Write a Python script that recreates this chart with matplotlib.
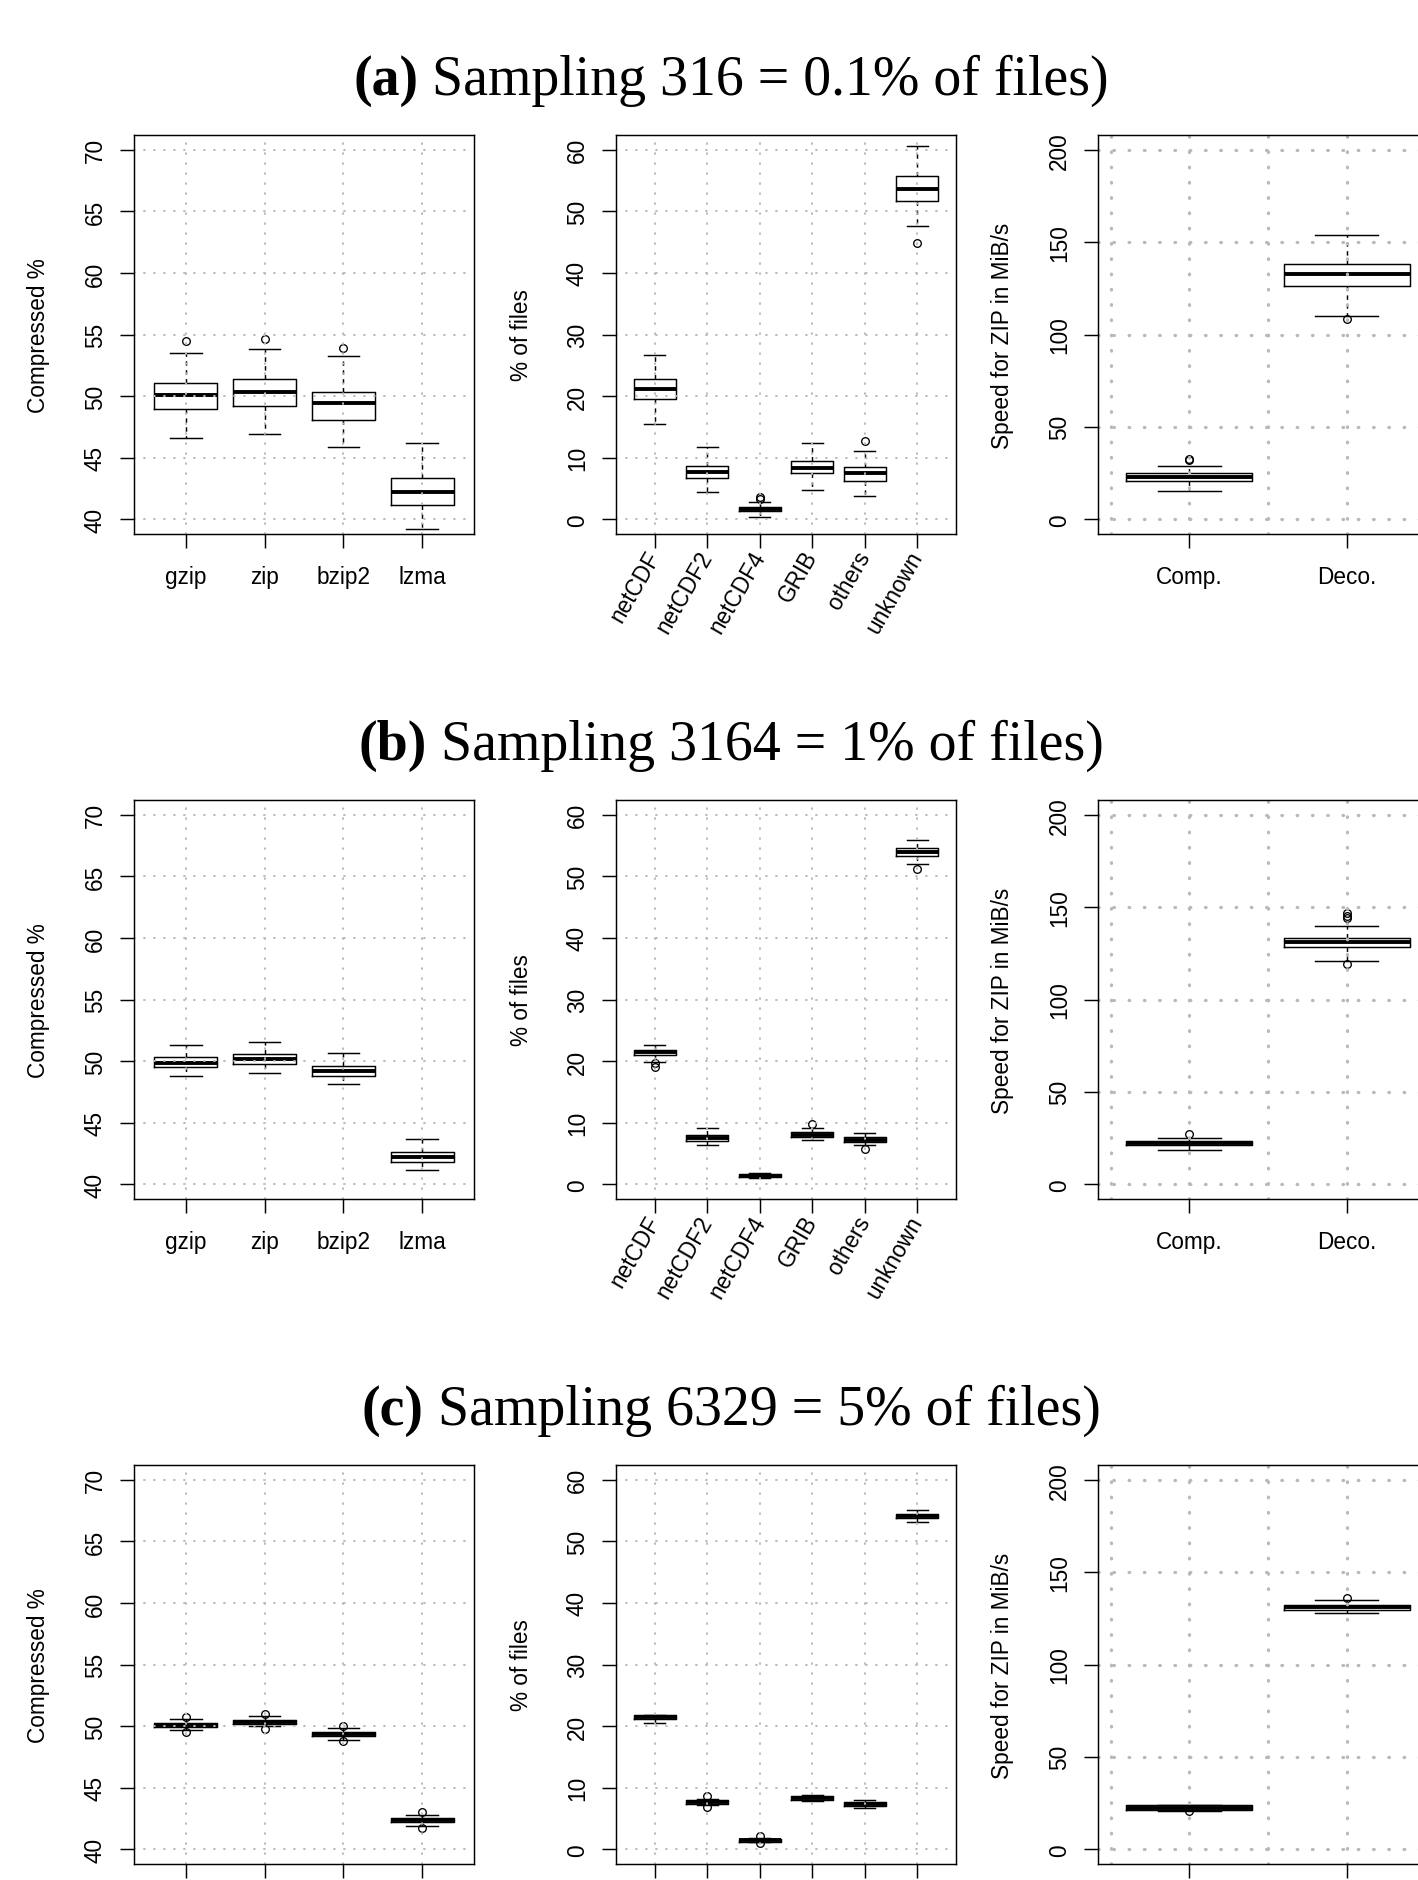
import matplotlib
matplotlib.use("Agg")
import matplotlib.pyplot as plt
import numpy as np

# ---------------- data ----------------
comp_cats = ["gzip", "zip", "bzip2", "lzma"]
fmt_cats = ["netCDF", "netCDF2", "netCDF4", "GRIB", "others", "unknown"]
speed_cats = ["Comp.", "Deco."]

panel_tags = ["(a)", "(b)", "(c)"]
panel_titles = [" Sampling 316 = 0.1% of files)",
                " Sampling 3164 = 1% of files)",
                " Sampling 6329 = 5% of files)"]

comp_yticks = [40, 45, 50, 55, 60, 65, 70]
fmt_yticks = [0, 10, 20, 30, 40, 50, 60]
speed_yticks = [0, 50, 100, 150, 200]

# box statistics: [whisker low, Q1, median, Q3, whisker high]
a_comp_stats = [[46.6, 48.93, 50.05, 51.05, 53.5],
                [46.92, 49.23, 50.34, 51.38, 53.8],
                [45.84, 48.09, 49.42, 50.34, 53.28],
                [39.19, 41.19, 42.17, 43.31, 46.22]]
a_comp_fliers = [[54.45], [54.66], [53.87], []]
a_fmt_stats = [[15.52, 19.48, 21.22, 22.79, 26.63],
               [4.42, 6.63, 7.67, 8.72, 11.74],
               [0.29, 1.28, 1.63, 1.98, 2.85],
               [4.71, 7.44, 8.31, 9.48, 12.33],
               [3.84, 6.28, 7.56, 8.55, 11.1],
               [47.56, 51.63, 53.6, 55.7, 60.58]]
a_fmt_fliers = [[], [], [3.6, 3.3], [], [12.67], [44.94]]
a_speed_stats = [[15.02, 20.63, 22.8, 24.98, 28.96],
                 [110.2, 126.5, 132.85, 137.9, 154.0]]
a_speed_fliers = [[31.86, 32.4], [108.6]]

b_comp_stats = [[48.79, 49.49, 49.87, 50.33, 51.28],
                [49.06, 49.79, 50.14, 50.58, 51.55],
                [48.14, 48.76, 49.17, 49.6, 50.66],
                [41.19, 41.82, 42.2, 42.6, 43.69]]
b_comp_fliers = [[], [], [], []]
b_fmt_stats = [[19.87, 20.98, 21.43, 21.82, 22.66],
               [6.44, 7.1, 7.55, 8.0, 9.07],
               [0.95, 1.12, 1.4, 1.68, 1.85],
               [7.16, 7.67, 8.06, 8.45, 9.12],
               [6.32, 6.83, 7.22, 7.61, 8.28],
               [51.93, 53.33, 54.0, 54.67, 55.96]]
b_fmt_fliers = [[19.7, 19.0], [], [], [9.79], [5.71], [51.2]]
b_speed_stats = [[18.26, 20.98, 22.06, 23.3, 25.1],
                 [120.98, 128.4, 130.9, 133.45, 139.96]]
b_speed_fliers = [[27.3], [146.6, 145.4, 143.9, 119.0]]

c_comp_stats = [[49.67, 49.89, 50.05, 50.22, 50.6],
                [49.97, 50.16, 50.35, 50.52, 50.84],
                [48.86, 49.18, 49.35, 49.51, 49.84],
                [41.87, 42.17, 42.34, 42.5, 42.8]]
c_comp_fliers = [[50.71, 49.51], [51.0, 49.78], [50.0, 48.75], [42.99, 41.71]]
c_fmt_stats = [[20.56, 21.1, 21.43, 21.76, 21.87],
               [7.16, 7.27, 7.6, 7.92, 8.08],
               [1.14, 1.25, 1.52, 1.74, 1.9],
               [7.76, 7.98, 8.3, 8.63, 8.84],
               [6.73, 7.0, 7.33, 7.65, 7.98],
               [53.07, 53.72, 54.04, 54.42, 55.02]]
c_fmt_fliers = [[], [8.63, 6.84], [2.12, 1.03], [], [], []]
c_speed_stats = [[20.8, 21.16, 22.24, 23.69, 23.87],
                 [127.8, 129.5, 130.9, 132.2, 135.1]]
c_speed_fliers = [[20.6], [136.0]]

# ---------------- layout ----------------
W, H, DPI = 1418, 1881, 100
plt.rcParams["font.family"] = ["Liberation Sans", "DejaVu Sans"]
plt.rcParams["lines.scale_dashes"] = False

fig = plt.figure(figsize=(W / DPI, H / DPI), dpi=DPI)
fig.patch.set_facecolor("white")

FS = 16.3
row_tops = [136, 801, 1466]
col_lefts = [134, 616, 1098]
AX_W, AX_H = 340, 399
title_base = [95, 760, 1425]
GRID_C = "#b9b9b9"


def px_axes(left, top, w, h):
    return fig.add_axes([left / W, 1 - (top + h) / H, w / W, h / H])


def to_bxp(stats, fliers, labels):
    return [dict(whislo=s[0], q1=s[1], med=s[2], q3=s[3], whishi=s[4],
                 fliers=f, label=l) for s, f, l in zip(stats, fliers, labels)]


def draw_panel(ax, stats, fliers, cats, yticks, ylim, xlim, xgrid, heavy,
               ylabel, left, top, rotated):
    n = len(cats)
    pos = np.arange(1, n + 1)
    ax.bxp(to_bxp(stats, fliers, cats), positions=pos, widths=0.8,
           capwidths=0.4, manage_ticks=False,
           boxprops=dict(color="black", lw=1.05),
           whiskerprops=dict(color="black", lw=1.05, linestyle=(0, (3.2, 3.2))),
           capprops=dict(color="black", lw=1.05),
           medianprops=dict(color="black", lw=2.8, solid_capstyle="butt"),
           flierprops=dict(marker="o", markerfacecolor="none",
                           markeredgecolor="black", markersize=5.5,
                           markeredgewidth=0.95))
    ax.set_xlim(*xlim)
    ax.set_ylim(*ylim)
    # grid (drawn on top like R's grid())
    if heavy:
        gls = (0, (0.5, 10.5))
        glw = 2.3
    else:
        gls = (0, (0.6, 6.6))
        glw = 1.4
    for y in yticks:
        l = ax.axhline(y, color=GRID_C, lw=glw, ls=gls, zorder=3)
        l.set_dash_capstyle("round")
    for x in xgrid:
        l = ax.axvline(x, color=GRID_C, lw=glw, ls=gls, zorder=3)
        l.set_dash_capstyle("round")
    for sp in ax.spines.values():
        sp.set_linewidth(1.05)
        sp.set_color("black")
        sp.set_zorder(4)
    ax.set_yticks(yticks)
    ax.set_yticklabels([str(v) for v in yticks], rotation=90, va="center")
    ax.set_xticks(pos)
    if rotated:
        ax.set_xticklabels(cats, rotation=60, ha="right", va="center",
                           rotation_mode="anchor")
        ax.tick_params(axis="x", pad=3)
    else:
        ax.set_xticklabels(cats)
        ax.tick_params(axis="x", pad=12)
    ax.tick_params(axis="y", pad=9.5)
    ax.tick_params(direction="out", length=10, width=1.05, labelsize=FS,
                   colors="black")
    fig.text((left - 95) / W, 1 - (top + AX_H / 2) / H, ylabel, rotation=90,
             ha="center", va="center", fontsize=FS)


rows = [
    (a_comp_stats, a_comp_fliers, a_fmt_stats, a_fmt_fliers, a_speed_stats, a_speed_fliers),
    (b_comp_stats, b_comp_fliers, b_fmt_stats, b_fmt_fliers, b_speed_stats, b_speed_fliers),
    (c_comp_stats, c_comp_fliers, c_fmt_stats, c_fmt_fliers, c_speed_stats, c_speed_fliers),
]

for r, (cs, cf, fs, ff, ss, sf) in enumerate(rows):
    top = row_tops[r]
    ax1 = px_axes(col_lefts[0], top, AX_W, AX_H)
    draw_panel(ax1, cs, cf, comp_cats, comp_yticks, (38.8, 71.2), (0.34, 4.66),
               [1, 2, 3, 4], False, "Compressed %", col_lefts[0], top, False)
    ax2 = px_axes(col_lefts[1], top, AX_W, AX_H)
    draw_panel(ax2, fs, ff, fmt_cats, fmt_yticks, (-2.4, 62.4), (0.26, 6.74),
               [1, 2, 3, 4, 5, 6], False, "% of files", col_lefts[1], top, True)
    ax3 = px_axes(col_lefts[2], top, AX_W, AX_H)
    draw_panel(ax3, ss, sf, speed_cats, speed_yticks, (-8, 208), (0.42, 2.58),
               [0.5, 1.0, 1.5, 2.0, 2.5], True, "Speed for ZIP in MiB/s",
               col_lefts[2], top, False)

# titles: bold tag + regular text, centred as one line
renderer = fig.canvas.get_renderer()
TS = 40
TITLE_W = 755
TITLE_CX = 731
for r in range(3):
    yb = 1 - title_base[r] / H
    t1 = fig.text(0, yb, panel_tags[r], fontfamily="Liberation Serif",
                  fontweight="bold", fontsize=TS, va="baseline", ha="left")
    t2 = fig.text(0, yb, panel_titles[r], fontfamily="Liberation Serif",
                  fontsize=TS, va="baseline", ha="left")
    w1 = t1.get_window_extent(renderer).width
    w2 = t2.get_window_extent(renderer).width
    if r == 0:
        scale = TITLE_W / (w1 + w2)
    t1.set_fontsize(TS * scale)
    t2.set_fontsize(TS * scale)
    w1 = t1.get_window_extent(renderer).width
    w2 = t2.get_window_extent(renderer).width
    x0 = TITLE_CX - (w1 + w2) / 2
    t1.set_x(x0 / W)
    t2.set_x((x0 + w1) / W)

fig.savefig("out.png", dpi=DPI, facecolor="white")
